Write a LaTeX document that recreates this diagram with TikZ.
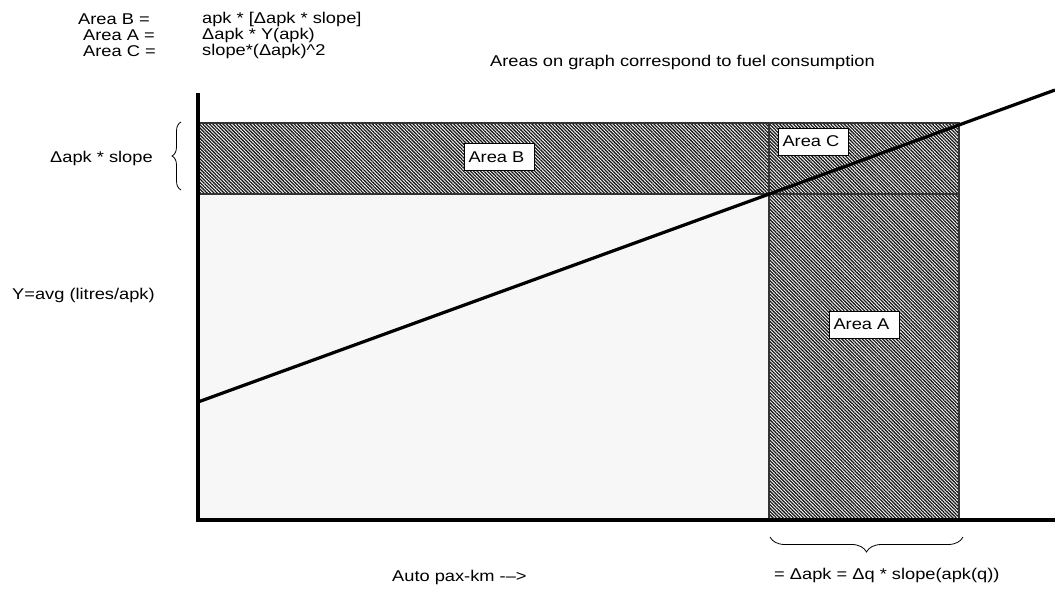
\documentclass[tikz,border=0pt]{standalone}
\usepackage{fontspec}
\setmainfont[FakeStretch = 1.17]{Liberation Sans}
\usetikzlibrary{patterns.meta, decorations.pathreplacing}

\begin{document}
\begin{tikzpicture}[x = 1pt, y = -1pt,
	every node/.style = {font = \fontsize{15.6}{16}\selectfont, inner sep = 0pt},
	axis/.style = {line width = 3.5pt},
	lightfill/.style = {pattern = {Dots[distance = 2pt, radius = 0.45pt]}, pattern color = black!40},
	darkfill/.style = {draw = black!80, line width = 1.2pt, preaction = {fill = white},
		pattern = {Lines[angle = -45, distance = 2.4pt, line width = 1.3pt]}, pattern color = black!90},
	areabox/.style = {draw, fill = white, line width = 0.8pt, inner xsep = 4pt, text width = 62pt, minimum height = 27pt, align = left},
	curly/.style = {decorate, decoration = {brace, amplitude = #1}, line width = 0.8pt}]

	\useasboundingbox (0, 0) rectangle (1055, 590);

	% Formulas
	
	\node [anchor = west] (eqB) at (78, 19) {Area B =};
	\node [anchor = west] (eqA) at (83, 35) {Area A =};
	\node [anchor = west] (eqC) at (83, 51) {Area C =};
	\node [anchor = west] (valB) at (202, 19) {apk * [Δapk * slope]};
	\node [anchor = west] (valA) at (202, 35) {Δapk * Y(apk)};
	\node [anchor = west] (valC) at (202, 51) {slope*(Δapk)\textasciicircum 2};
	\node [anchor = west] (note) at (490, 62) {Areas on graph correspond to fuel consumption};
	
	% Regions
	
	\fill [lightfill] (198, 194) rectangle (769, 520);
	\filldraw [darkfill] (198, 123) rectangle (959, 194);
	\draw [black!80, line width = 1.2pt] (769, 123) -- (769, 194);
	\filldraw [darkfill] (769, 194) rectangle (959, 520);
	
	% Fuel line and axes
	
	\coordinate (fstart) at (198, 402);
	\coordinate (fend) at (1055, 90);
	\draw [line width = 3.2pt] (fstart) -- (fend);
	
	\coordinate (ytop) at (198, 93);
	\coordinate (O) at (198, 520);
	\coordinate (xend) at (1055, 520);
	\draw [axis] (ytop) -- (O) -- (xend);
	
	% Area labels
	
	\node [areabox] (areaB) at (499.5, 157) {Area B};
	\node [areabox] (areaC) at (813.5, 141.5) {Area C};
	\node [areabox] (areaA) at (864.5, 324.5) {Area A};
	
	% Braces
	
	\coordinate (bl1) at (181, 190);
	\coordinate (bl2) at (181, 122);
	\draw [curly = 9pt] (bl1) -- (bl2);
	\node [anchor = west] (dslope) at (50, 158) {Δapk * slope};
	
	\coordinate (bb1) at (963, 537);
	\coordinate (bb2) at (770, 537);
	\draw [curly = 15pt] (bb1) -- (bb2);
	\node [anchor = west] (dapk) at (774, 575) {= Δapk = Δq * slope(apk(q))};
	
	% Axis titles
	
	\node [anchor = west] (ylbl) at (12, 295) {Y=avg (litres/apk)};
	\node [anchor = west] (xlbl) at (392, 577) {Auto pax-km -–>};

\end{tikzpicture}
\end{document}
